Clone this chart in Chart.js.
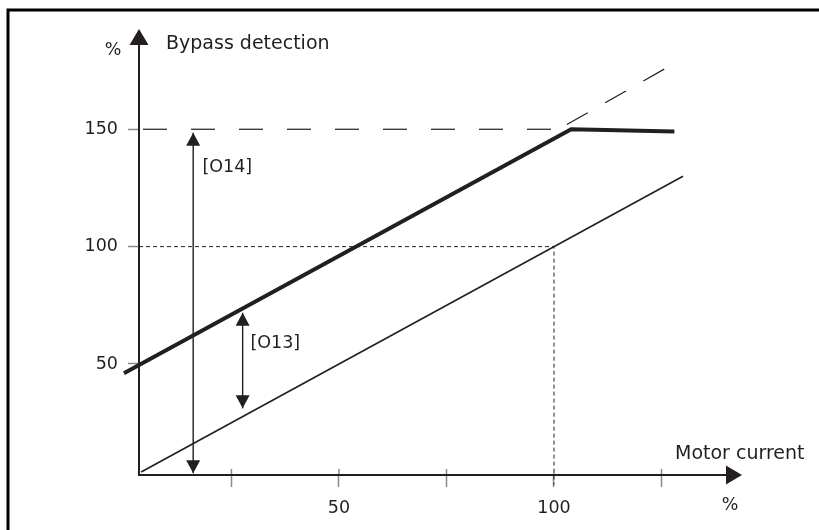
<!DOCTYPE html>
<html>
<head>
<meta charset="utf-8">
<script src="https://cdn.jsdelivr.net/npm/chart.js@4.4.1/dist/chart.umd.min.js"></script>
<style>
  html, body { margin: 0; padding: 0; background: #fff; }
  #wrap { width: 819px; height: 530px; }
</style>
</head>
<body>
<div id="wrap"><canvas id="bypassChart" width="819" height="530"></canvas></div>
<script>
// values: motor current % (x) vs bypass detection % (y)
const xTicks = [25, 50, 75, 100, 125];
const xTickLabels = [50, 100];
const yTicks = [50, 100, 150];

const motorX = [4, 130];
const motorY = [4, 130];
const detectX = [0, 104, 128];
const detectY = [46, 150, 149];
const limitX = [3.5, 104];
const limitY = [150, 150];
const extendX = [103, 126];
const extendY = [152, 176];
const ratedX = [3.5, 100, 100];
const ratedY = [100, 100, -1.5];
const o14X = [16.1, 16.1];
const o14Y = [3.4, 148.5];
const o13X = [27.6, 27.6];
const o13Y = [31.1, 71.8];

const ink = '#231f20';
const tickGrey = '#8a8a8a';
const fontFamily = "'DejaVu Sans', sans-serif";

Chart.defaults.font.family = fontFamily;
Chart.defaults.color = ink;

const pts = (xs, ys) => xs.map((x, i) => ({ x: x, y: ys[i] }));

function lineSet(xs, ys, width, extra) {
    return Object.assign({
        data: pts(xs, ys),
        borderColor: ink,
        borderWidth: width,
        pointRadius: 0,
        fill: false,
        tension: 0,
        clip: false
    }, extra || {});
}

// arrow heads on both ends of the datasets marked with arrows: true
const arrowHeads = {
    id: 'arrowHeads',
    afterDatasetsDraw(chart) {
        const ctx = chart.ctx;
        const head = (tip, from) => {
            const a = Math.atan2(tip.y - from.y, tip.x - from.x);
            ctx.save();
            ctx.translate(tip.x, tip.y);
            ctx.rotate(a);
            ctx.beginPath();
            ctx.moveTo(0, 0);
            ctx.lineTo(-13, -7);
            ctx.lineTo(-13, 7);
            ctx.closePath();
            ctx.fillStyle = ink;
            ctx.fill();
            ctx.restore();
        };
        chart.data.datasets.forEach((ds, i) => {
            if (!ds.arrows) return;
            const p = chart.getDatasetMeta(i).data;
            head(p[0], p[1]);
            head(p[p.length - 1], p[p.length - 2]);
        });
    }
};

// frame, axis arrow tips and the free texts
const decorations = {
    id: 'decorations',
    afterDraw(chart) {
        const ctx = chart.ctx;
        const a = chart.chartArea;
        const xs = chart.scales.x;
        ctx.save();
        ctx.strokeStyle = '#000';
        ctx.lineWidth = 3;
        ctx.beginPath();
        ctx.moveTo(8, 600);
        ctx.lineTo(8, 10);
        ctx.lineTo(900, 10);
        ctx.stroke();

        // x ticks also poke a little above the axis
        ctx.strokeStyle = tickGrey;
        ctx.lineWidth = 1.5;
        xTicks.forEach(v => {
            const px = xs.getPixelForValue(v);
            ctx.beginPath();
            ctx.moveTo(px, a.bottom - 6);
            ctx.lineTo(px, a.bottom - 1);
            ctx.stroke();
        });

        ctx.fillStyle = ink;
        // y axis tip
        ctx.beginPath();
        ctx.moveTo(a.left, a.top - 16);
        ctx.lineTo(a.left - 9.5, a.top);
        ctx.lineTo(a.left + 9.5, a.top);
        ctx.closePath();
        ctx.fill();
        // x axis tip
        ctx.beginPath();
        ctx.moveTo(a.right + 16, a.bottom);
        ctx.lineTo(a.right, a.bottom - 9.5);
        ctx.lineTo(a.right, a.bottom + 9.5);
        ctx.closePath();
        ctx.fill();

        ctx.textBaseline = 'alphabetic';
        ctx.textAlign = 'left';
        ctx.font = '19px ' + fontFamily;
        ctx.fillText('Bypass detection', 166, 49);
        ctx.fillText('Motor current', 675, 459);
        ctx.font = '17.5px ' + fontFamily;
        ctx.fillText('[O14]', 202.5, 171.5);
        ctx.fillText('[O13]', 250.5, 347.5);
        ctx.textAlign = 'center';
        ctx.fillText('%', 113, 55);
        ctx.fillText('%', 730, 510);
        ctx.restore();
    }
};

new Chart(document.getElementById('bypassChart'), {
    type: 'line',
    data: {
        datasets: [
            lineSet(ratedX, ratedY, 1, { borderDash: [4, 3] }),
            lineSet(limitX, limitY, 1.2, { borderDash: [24, 24], borderDashOffset: 44 }),
            lineSet(extendX, extendY, 1.2, { borderDash: [24, 20] }),
            lineSet(motorX, motorY, 1.6),
            lineSet(detectX, detectY, 4),
            lineSet(o14X, o14Y, 1.4, { arrows: true }),
            lineSet(o13X, o13Y, 1.4, { arrows: true })
        ]
    },
    options: {
        responsive: false,
        animation: false,
        layout: { padding: { left: 74.6, top: 45, right: 93, bottom: 0 } },
        plugins: {
            legend: { display: false },
            tooltip: { enabled: false }
        },
        scales: {
            x: {
                type: 'linear',
                min: 3.5,
                max: 140,
                afterBuildTicks: (axis) => { axis.ticks = xTicks.map(v => ({ value: v })); },
                ticks: {
                    autoSkip: false,
                    maxRotation: 0,
                    padding: 11,
                    font: { size: 17.5 },
                    color: ink,
                    callback: (v) => xTickLabels.includes(v) ? String(v) : ''
                },
                grid: {
                    drawOnChartArea: false,
                    tickLength: 12,
                    tickColor: tickGrey,
                    tickWidth: 1.5
                },
                border: { color: ink, width: 2 }
            },
            y: {
                type: 'linear',
                min: 2.7,
                max: 185.9,
                afterBuildTicks: (axis) => { axis.ticks = yTicks.map(v => ({ value: v })); },
                ticks: {
                    padding: 10,
                    font: { size: 17.5 },
                    color: ink
                },
                grid: {
                    drawOnChartArea: false,
                    tickLength: 11,
                    tickColor: tickGrey,
                    tickWidth: 1.5
                },
                border: { color: ink, width: 2 }
            }
        }
    },
    plugins: [arrowHeads, decorations]
});
</script>
</body>
</html>
